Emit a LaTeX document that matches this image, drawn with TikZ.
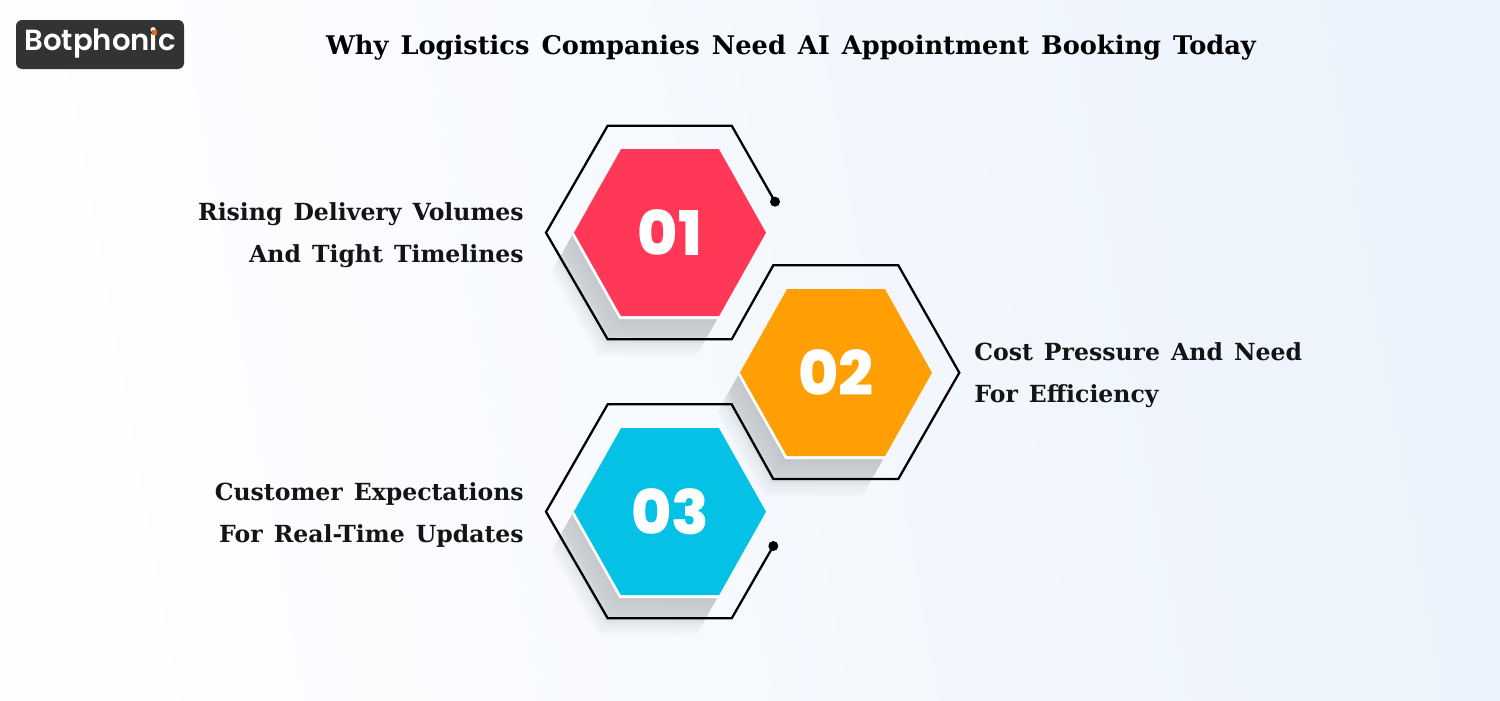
\documentclass[tikz,border=0pt]{standalone}
\usepackage{fontspec}
\setmainfont{DejaVu Serif}[BoldFont={DejaVu Serif Bold}]
\newfontfamily\numfont{Poppins}[UprightFont={* ExtraBold}]
\newfontfamily\logofont{Poppins}[UprightFont={* SemiBold}]
\newfontfamily\slabfont{DejaVu Serif}[UprightFont={* Bold},WordSpace=1.35]
\usetikzlibrary{positioning}
\definecolor{hexred}{HTML}{FF3857}
\definecolor{hexorange}{HTML}{FF9F03}
\definecolor{hexblue}{HTML}{05C1E6}
\definecolor{logogrey}{HTML}{333333}
\definecolor{logodot}{HTML}{E8650F}
\definecolor{shadowgrey}{HTML}{6E7378}
\definecolor{bgleft}{HTML}{FEFEFF}
\definecolor{bgright}{HTML}{ECF3FC}
\tikzset{
	headline/.style={font=\slabfont\fontsize{14.6}{17}\selectfont, text=black, inner sep=0pt},
	caption/.style={font=\slabfont\fontsize{13.4}{23.8}\selectfont, text=black!92, inner sep=0pt},
	hexnum/.style={font=\numfont\fontsize{35}{35}\selectfont, text=white},
	outline/.style={line width=1.3pt, black, line join=miter}
}
\newcommand{\hexpath}{(-49,-83.5) -- (49,-83.5) -- (96,0) -- (49,83.5) -- (-49,83.5) -- (-96,0) -- cycle}
\begin{document}
\begin{tikzpicture}[x=0.02cm,y=-0.02cm]
	\useasboundingbox (0,0) rectangle (1500,700);
	\shade[left color=bgleft, right color=bgright, shading angle=100] (0,0) rectangle (1500,700);

	% logo
	\fill[logogrey, rounded corners=3.5pt] (16,20) rectangle (184,69);
	\node[font=\logofont\fontsize{16.6}{20}\selectfont, text=white, inner sep=0pt] (logo) at (100,43) {Botphonic};
	\fill[logodot] (151.5,30) rectangle (156.5,35);

	\node[headline] (title) at (791,47.5) {Why Logistics Companies Need AI Appointment Booking Today};

	% shadows
	\foreach \cx/\cy in {670/232.7, 836/372.7, 670/511.7} {
		\foreach \d in {4,6,...,14} {
			\fill[shadowgrey, opacity=0.012, shift={(\cx-\d*0.73,\cy+\d*1.27)}] \hexpath;
		}
		\foreach \d in {15,...,24} {
			\fill[shadowgrey, opacity=0.022, shift={(\cx-\d*0.73,\cy+\d*1.27)}] \hexpath;
		}
		\foreach \d in {25,...,32} {
			\fill[shadowgrey, opacity=0.007, shift={(\cx-\d*0.73,\cy+\d*1.27)}] \hexpath;
		}
	}

	% outline
	\draw[outline] (775,201.7) -- (731.7,125.7) -- (607.7,125.7) -- (546,232.7) -- (607.7,339.3) -- (731.7,339.3) -- (773.3,265.3) -- (898.3,265.3) -- (959.3,372.7) -- (898.3,479) -- (773.3,479) -- (731.7,404.3) -- (607.7,404.3) -- (546,511.7) -- (607.7,618.3) -- (731.7,618.3) -- (773.3,546);
	\fill (775,201.7) circle (5);
	\fill (773.3,546) circle (5);

	% hexagons
	\foreach \cx/\cy/\col in {670/232.7/hexred, 836/372.7/hexorange, 670/511.7/hexblue} {
		\fill[white, shift={(\cx-1.6,\cy+2.8)}] \hexpath;
		\fill[\col, shift={(\cx,\cy)}] \hexpath;
	}
	\node[hexnum] (num1) at (670,233) {01};
	\node[hexnum] (num2) at (836,373) {02};
	\node[hexnum] (num3) at (670,512) {03};

	\node[caption, anchor=east, align=right] (rising) at (524,235) {Rising Delivery Volumes\\And Tight Timelines};
	\node[caption, anchor=west, align=left] (cost) at (974,375) {Cost Pressure And Need\\For Efficiency};
	\node[caption, anchor=east, align=right] (customer) at (524,515) {Customer Expectations\\For Real-Time Updates};
\end{tikzpicture}
\end{document}
